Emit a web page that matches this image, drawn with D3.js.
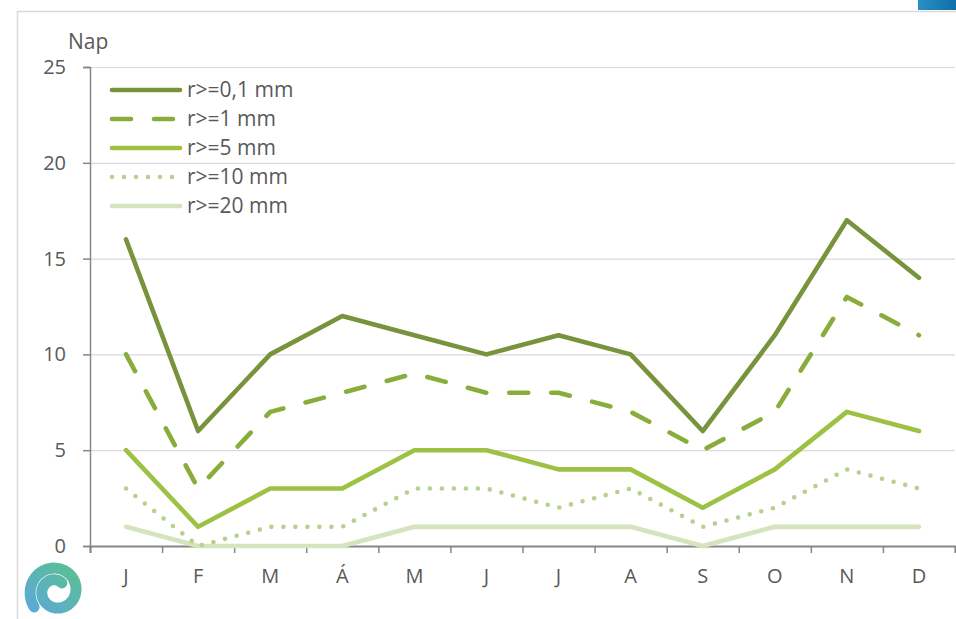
<!DOCTYPE html>
<html>
<head>
<meta charset="utf-8">
<script src="https://cdn.jsdelivr.net/npm/d3@7"></script>
<style>
  html, body { margin: 0; padding: 0; background: #fff; }
  svg { display: block; }
  text { font-family: "Open Sans", "Liberation Sans", sans-serif; fill: #595959; }
</style>
</head>
<body>
<svg id="chart" width="956" height="619"></svg>
<script>
// Monthly number of precipitation days by daily threshold
const months = ["J", "F", "M", "Á", "M", "J", "J", "A", "S", "O", "N", "D"];
const seriesNames = ["r>=0,1 mm", "r>=1 mm", "r>=5 mm", "r>=10 mm", "r>=20 mm"];
const r01  = [16, 6, 10, 12, 11, 10, 11, 10, 6, 11, 17, 14];
const r1   = [10, 3, 7, 8, 9, 8, 8, 7, 5, 7, 13, 11];
const r5   = [5, 1, 3, 3, 5, 5, 4, 4, 2, 4, 7, 6];
const r10  = [3, 0, 1, 1, 3, 3, 2, 3, 1, 2, 4, 3];
const r20  = [1, 0, 0, 0, 1, 1, 1, 1, 0, 1, 1, 1];
const yTicks = [0, 5, 10, 15, 20, 25];
const yLabel = "Nap";

const seriesValues = [r01, r1, r5, r10, r20];
const styles = [
  { color: "#77933c", dash: null },
  { color: "#88ad3a", dash: "19,23" },
  { color: "#9dc143", dash: null },
  { color: "#b6d18b", dash: "0,12" },
  { color: "#d5e3bf", dash: null }
];

const svg = d3.select("#chart");
const plotLeft = 90, plotRight = 955, plotTop = 67, plotBottom = 546;

const x = d3.scaleBand().domain(d3.range(months.length)).range([plotLeft, plotRight]);
const xEdge = d3.scaleLinear().domain([0, months.length]).range([plotLeft, plotRight]);
const y = d3.scaleLinear().domain([0, 25]).range([plotBottom, plotTop]);

// frame and corner badge
svg.append("path").attr("d", "M17.5,619 V11.5 H956")
  .attr("fill", "none").attr("stroke", "#d9d9d9").attr("stroke-width", 1.5);
const defs = svg.append("defs");
const grad = defs.append("linearGradient").attr("id", "badge")
  .attr("x1", "0").attr("x2", "1");
grad.append("stop").attr("offset", "0").attr("stop-color", "#2a8fc4");
grad.append("stop").attr("offset", "1").attr("stop-color", "#0f6fa8");
svg.append("rect").attr("x", 918).attr("y", 0).attr("width", 38).attr("height", 10)
  .attr("fill", "url(#badge)");

// gridlines
svg.append("g").selectAll("line").data(yTicks.filter(d => d > 0)).join("line")
  .attr("x1", plotLeft).attr("x2", plotRight)
  .attr("y1", d => y(d) + 0.5).attr("y2", d => y(d) + 0.5)
  .attr("stroke", "#d9d9d9").attr("stroke-width", 1.2);

// y axis
const yAxis = svg.append("g").attr("transform", `translate(${plotLeft},0)`)
  .call(d3.axisLeft(y).tickValues(yTicks).tickSize(7).tickPadding(17));
yAxis.select(".domain").attr("stroke", "#868686").attr("stroke-width", 1.5);
yAxis.selectAll(".tick line").attr("stroke", "#868686").attr("stroke-width", 1.5);
yAxis.selectAll(".tick text").attr("font-size", 20).attr("fill", "#595959")
  .attr("font-family", "Open Sans, Liberation Sans, sans-serif");

svg.append("text").attr("x", 68).attr("y", 49).attr("font-size", 21).text(yLabel);

// x axis: ticks on category edges, labels on category centres
const xAxis = svg.append("g").attr("transform", `translate(0,${plotBottom})`)
  .call(d3.axisBottom(xEdge).tickValues(d3.range(months.length + 1)).tickSize(7).tickFormat(""));
xAxis.select(".domain").attr("stroke", "#868686").attr("stroke-width", 2);
xAxis.selectAll(".tick line").attr("stroke", "#868686").attr("stroke-width", 1.5);

const xLabels = svg.append("g").attr("transform", `translate(0,${plotBottom})`)
  .call(d3.axisBottom(x).tickSize(0).tickPadding(23).tickFormat(i => months[i]));
xLabels.select(".domain").remove();
xLabels.selectAll(".tick text").attr("font-size", 20).attr("fill", "#595959")
  .attr("font-family", "Open Sans, Liberation Sans, sans-serif");

// series lines
const line = d3.line().x((d, i) => x(i) + x.bandwidth() / 2).y(d => y(d));
const order = [4, 3, 2, 1, 0];
svg.append("g").selectAll("path").data(order).join("path")
  .attr("d", k => line(seriesValues[k]))
  .attr("fill", "none")
  .attr("stroke", k => styles[k].color)
  .attr("stroke-width", 4.6)
  .attr("stroke-linejoin", "round")
  .attr("stroke-linecap", "round")
  .attr("stroke-dasharray", k => styles[k].dash);

// legend
const lg = svg.append("g");
seriesNames.forEach((name, k) => {
  const ly = 90 + k * 29;
  lg.append("line").attr("x1", 112).attr("x2", 180).attr("y1", ly).attr("y2", ly)
    .attr("stroke", styles[k].color).attr("stroke-width", 4.6)
    .attr("stroke-linecap", "round")
    .attr("stroke-dasharray", styles[k].dash);
  lg.append("text").attr("x", 187).attr("y", ly + 7).attr("font-size", 21).text(name);
});

// spiral emblem
const sg = defs.append("linearGradient").attr("id", "spiral")
  .attr("x1", "0").attr("y1", "1").attr("x2", "1").attr("y2", "0");
sg.append("stop").attr("offset", "0").attr("stop-color", "#4aa0d0");
sg.append("stop").attr("offset", "1").attr("stop-color", "#49b886");
const cx = 56, cy = 591;
const pts = d3.range(0, 1.001, 0.01).map(t => {
  const a = -Math.PI * 1.2 + t * Math.PI * 2.9;
  const r = 27 - t * 17;
  return [cx + r * Math.cos(a), cy + r * Math.sin(a)];
});
svg.append("path").attr("d", d3.line().curve(d3.curveBasis)(pts))
  .attr("fill", "none").attr("stroke", "url(#spiral)").attr("stroke-width", 11)
  .attr("stroke-linecap", "round").attr("opacity", 0.9);
</script>
</body>
</html>
